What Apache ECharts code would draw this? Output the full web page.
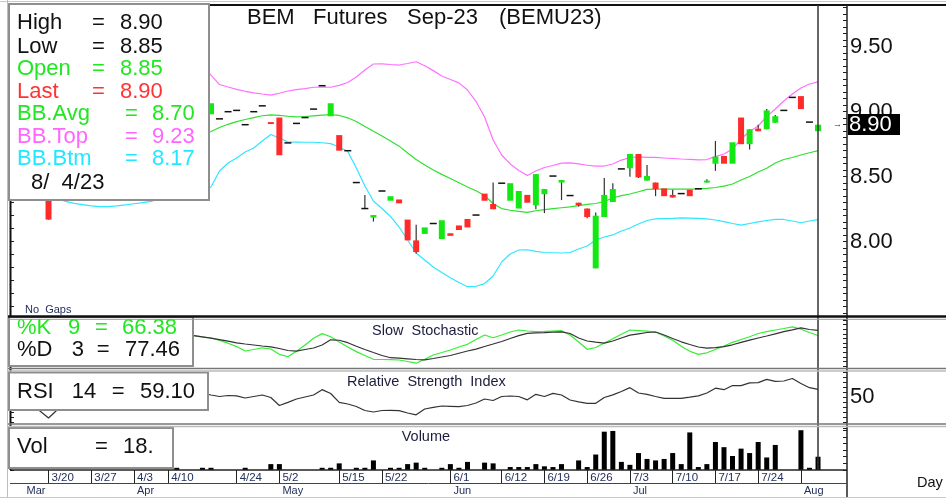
<!DOCTYPE html>
<html>
<head>
<meta charset="utf-8">
<title>BEM Futures Sep-23 (BEMU23)</title>
<script src="https://cdn.jsdelivr.net/npm/echarts@6/dist/echarts.min.js"></script>
<style>
  html, body { margin: 0; padding: 0; background: #fff; }
  #main { width: 946px; height: 498px; }
</style>
</head>
<body>
<div id="main"></div>
<script>
// trading days (bars), oldest first
const dates = ['3/14','3/15','3/16','3/17','3/20','3/21','3/22','3/23','3/24','3/27','3/28','3/29','3/30','3/31',
  '4/3','4/4','4/5','4/6','4/10','4/11','4/12','4/13','4/14','4/17','4/18','4/19','4/24','4/25','4/26','4/27','4/28',
  '5/2','5/3','5/4','5/5','5/8','5/9','5/10','5/15','5/16','5/17','5/18','5/19','5/22','5/23','5/24','5/25','5/26','5/29','5/30','5/31',
  '6/1','6/2','6/5','6/6','6/7','6/8','6/12','6/13','6/14','6/15','6/16','6/19','6/20','6/21','6/22','6/23','6/26','6/27','6/28','6/29','6/30',
  '7/3','7/4','7/5','7/6','7/7','7/10','7/11','7/12','7/13','7/14','7/17','7/18','7/19','7/20','7/21','7/24','7/25','7/26','7/27','7/28',
  '8/1','8/3','8/4'];

const weekLabels = ['3/20','3/27','4/3','4/10','4/24','5/2','5/15','5/22','6/1','6/12','6/19','6/26','7/3','7/10','7/17','7/24'];
const monthStarts = ['3/14','4/3','5/2','6/1','7/3','8/1'];
const monthNames = ['Mar','Apr','May','Jun','Jul','Aug'];

const opens = [8.50,8.52,8.55,8.50,8.38,8.55,8.62,8.70,8.72,8.78,8.80,8.85,8.88,8.92,8.95,8.98,9.00,9.02,9.05,9.08,9.05,9.02,9.00,
  8.98,8.945,9.00,9.01,8.90,9.00,9.045,8.92,8.955,8.76,8.91,8.955,9.02,9.20,8.965,8.82,8.70,8.455,8.255,8.185,8.39,8.315,
  8.325,8.17,8.01,8.06,8.14,8.02,8.065,8.125,8.175,8.205,8.37,8.29,8.45,8.315,8.255,8.36,8.28,8.365,8.505,8.455,8.355,8.30,
  8.255,7.795,8.19,8.305,8.56,8.565,8.675,8.47,8.455,8.41,8.36,8.37,8.40,8.407,8.455,8.60,8.66,8.60,8.955,8.75,8.87,8.865,
  8.915,9.01,9.11,9.12,8.92,8.85];
const closes = [8.50,8.52,8.55,8.50,8.17,8.55,8.62,8.70,8.72,8.78,8.80,8.85,8.88,8.92,8.95,8.98,9.00,9.02,9.05,9.08,9.05,9.02,9.00,
  9.065,8.945,9.00,9.01,8.90,9.00,9.045,8.905,8.665,8.76,8.91,8.955,9.02,9.20,9.065,8.70,8.70,8.455,8.255,8.205,8.39,8.35,
  8.295,8.01,7.92,8.11,8.14,8.165,8.045,8.09,8.11,8.205,8.315,8.25,8.45,8.45,8.39,8.30,8.52,8.405,8.505,8.475,8.355,8.28,
  8.19,8.20,8.36,8.405,8.56,8.675,8.495,8.505,8.405,8.35,8.34,8.37,8.35,8.407,8.47,8.655,8.60,8.765,8.75,8.865,8.85,9.01,
  8.965,9.01,9.11,9.02,8.92,8.90];
const highs = [8.50,8.52,8.55,8.50,8.40,8.55,8.62,8.70,8.72,8.78,8.80,8.85,8.88,8.92,8.95,8.98,9.00,9.02,9.05,9.08,9.05,9.02,9.00,
  9.065,8.945,9.00,9.01,8.90,9.00,9.045,8.92,8.955,8.76,8.91,8.955,9.02,9.20,9.065,8.82,8.70,8.455,8.36,8.205,8.39,8.35,
  8.325,8.17,8.13,8.11,8.14,8.165,8.065,8.125,8.175,8.205,8.37,8.455,8.45,8.45,8.39,8.36,8.52,8.405,8.505,8.475,8.355,8.30,
  8.255,8.225,8.49,8.45,8.56,8.675,8.675,8.59,8.455,8.41,8.40,8.37,8.40,8.407,8.48,8.775,8.66,8.765,8.955,8.865,8.90,9.02,
  8.975,9.01,9.11,9.12,8.92,8.90];
const lows = [8.50,8.52,8.55,8.50,8.17,8.55,8.62,8.70,8.72,8.78,8.80,8.85,8.88,8.92,8.95,8.98,9.00,9.02,9.05,9.08,9.05,9.02,9.00,
  8.98,8.945,9.00,9.01,8.90,9.00,9.045,8.905,8.665,8.76,8.91,8.955,9.02,9.20,8.965,8.70,8.70,8.455,8.255,8.155,8.39,8.315,
  8.295,8.01,7.91,8.06,8.14,8.02,8.045,8.09,8.11,8.205,8.315,8.25,8.45,8.315,8.255,8.30,8.25,8.22,8.505,8.32,8.355,8.27,
  8.18,7.795,8.19,8.305,8.56,8.50,8.49,8.47,8.35,8.35,8.34,8.37,8.35,8.407,8.455,8.545,8.60,8.60,8.75,8.71,8.85,8.865,
  8.915,9.01,9.11,9.02,8.92,8.85];

const volumes = [0,0,0,0,0,0,0,0,0,0,0,0,0,0,0,0,0,0,0,
  3,0,0,3,3,0,0,0,3,0,0,
  8,8,0,0,0,0,3,3,9,0,
  3,3,13,0,3,3,8,10,3,0,
  3,8,3,11,0,10,9,0,4,4,
  4,8,5,4,8,0,13,4,21,52,
  53,11,7,23,15,13,15,23,8,51,
  4,8,38,31,19,29,23,38,17,34,
  0,0,54,3,18];

const bbTop = [9.25,9.27,9.30,9.32,9.34,9.36,9.38,9.40,9.41,9.42,9.43,9.44,9.44,9.45,9.45,9.44,9.43,9.42,9.41,9.40,9.38,9.36,9.352,
  9.282,9.209,9.19,9.172,9.157,9.145,9.136,9.128,9.142,9.159,
  9.17,9.178,9.188,9.19,9.188,9.202,9.225,9.267,9.321,9.367,
  9.368,9.363,9.359,9.371,9.384,9.353,9.316,9.275,9.248,9.222,
  9.167,9.078,8.959,8.782,8.667,8.598,8.548,8.509,8.544,8.571,
  8.586,8.605,8.607,8.599,8.588,8.581,8.582,8.598,8.628,8.648,
  8.652,8.649,8.648,8.644,8.64,8.636,8.634,8.63,8.632,8.654,
  8.675,8.713,8.79,8.848,8.89,8.962,9.021,9.082,9.136,9.182,
  9.213,9.23];
const bbAvg = [8.60,8.62,8.63,8.64,8.65,8.66,8.67,8.68,8.69,8.70,8.71,8.72,8.73,8.74,8.75,8.76,8.77,8.78,8.79,8.80,8.805,8.81,8.821,
  8.848,8.878,8.903,8.924,8.94,8.955,8.969,8.975,8.971,8.965,
  8.96,8.963,8.968,8.973,8.978,8.971,8.953,8.925,8.886,8.849,
  8.813,8.775,8.735,8.682,8.632,8.59,8.552,8.518,8.486,8.453,
  8.421,8.392,8.355,8.292,8.255,8.242,8.233,8.226,8.238,8.247,
  8.254,8.261,8.268,8.278,8.287,8.294,8.309,8.336,8.355,8.367,
  8.384,8.403,8.404,8.404,8.404,8.405,8.405,8.407,8.41,8.417,
  8.428,8.444,8.475,8.502,8.536,8.565,8.605,8.632,8.648,8.667,
  8.684,8.70];
const bbBtm = [8.40,8.38,8.36,8.35,8.34,8.33,8.31,8.295,8.285,8.275,8.27,8.27,8.275,8.283,8.292,8.30,8.31,8.33,8.345,8.36,8.37,8.38,8.39,
  8.421,8.544,8.605,8.644,8.69,8.721,8.775,8.825,8.798,8.767,
  8.766,8.765,8.765,8.761,8.754,8.728,8.694,8.567,8.428,8.313,
  8.255,8.194,8.113,8.013,7.913,7.859,7.805,7.763,7.723,7.686,
  7.654,7.657,7.678,7.736,7.844,7.905,7.936,7.938,7.925,7.917,
  7.915,7.913,7.917,7.944,7.967,8.013,8.036,8.052,8.082,8.105,
  8.136,8.163,8.175,8.178,8.18,8.184,8.182,8.179,8.175,8.167,
  8.155,8.14,8.128,8.14,8.152,8.163,8.171,8.171,8.159,8.146,
  8.159,8.17];

const stochK = [50,45,40,30,20,15,25,35,45,55,60,65,70,72,75,78,80,78,75,70,
  67.4,65.9,63,60.9,55.7,49.6,42.2,32.6,35.9,39.6,37,25.4,20.2,32.2,45.7,60.2,70.4,63.7,52.2,41.3,
  31.3,22.8,14.6,14.1,13.7,13,9.8,6.1,14.6,23.9,29.3,34.8,41.3,47.4,57.6,67.4,61.5,67.4,73.9,78.3,
  76.1,74.8,75.2,76.1,76.7,67.4,52.2,36.3,40.2,50,59.3,69.1,78.3,77,75.7,73.9,65.2,56.1,42.8,32.2,
  25.2,28.7,35.9,43.5,51.5,57.6,63.5,70.7,74.6,78.3,81.5,85,80,72.8,66.38];
const stochD = [55,50,45,38,30,25,25,30,38,45,52,58,63,67,70,73,75,76,74,71,
  67.4,65.9,63.5,60.4,57.4,53.9,50.4,47.8,45.7,43.5,41.7,38,33.7,32.2,35.9,39.1,45.7,57,56,50.7,
  42.8,35.9,29.3,22.8,18,17,15.7,14.1,13.3,16.3,19.6,22.8,27.8,32.6,36.7,42.4,47.8,53.3,59.8,65.9,
  70.9,71.9,72.6,73.5,74.1,70.7,60.9,54.3,51.7,49.6,54.3,60.9,67,70,72.8,73.9,67.4,59.8,52.6,46.7,
  41.3,38.7,40,42.2,46.1,51.3,56.1,60.9,65.2,70,74.8,78.7,82.8,79.3,77.46];

const rsi = [48.8,46.4,38,33.2,24.8,34.4,46.4,50,53,55,57,58,60,61,62,63,62,60,58,57,56,55,54.8,
  52.4,50.6,51.8,51.4,48.8,50.6,52.4,49.4,39.8,43.6,47.6,50,52.4,58.8,54.2,43.6,41.6,38.6,33.8,32,
  33.8,34,33.6,30.8,28.6,35.6,37.5,39.2,38.8,38.4,39.8,42.8,47.6,45.8,50.6,51.2,50.6,46.6,53.2,50.6,
  54.3,52.4,46.4,44.2,42.4,42.4,49.4,52.6,56.6,61.2,54.8,53.2,50.6,48.4,48.4,48.4,49.8,51.4,54.8,60.6,
  58.8,63.8,63.7,67,67.2,71.2,68.8,69.2,72.2,66.2,61.2,59.1];

const N = dates.length;
const candleData = dates.map((d, i) => [i, opens[i], closes[i], lows[i], highs[i]]);

const FONT = "'Liberation Sans', Arial, sans-serif";
const GRID_L = 10.05, GRID_R = 123.7;   // 95 bars of 8.55px, last bar centred at x=818
const AXIS_OFF = 24.7;                  // right axis line at x=847
const UP = '#14e814', DOWN = '#ff2b2b';

function hiddenX(g) {
  return { type: 'category', gridIndex: g, data: dates, boundaryGap: true, show: false };
}
function tickAxis(g, pos, min, max, step, labels) {
  return {
    type: 'value', gridIndex: g, position: pos, offset: pos === 'right' ? AXIS_OFF : 0,
    min: min, max: max, interval: step,
    axisLine: { show: false },
    axisTick: { show: true, inside: true, length: 4, lineStyle: { color: '#222', width: 1 } },
    axisLabel: labels ? { show: true, margin: 3, fontSize: 22, color: '#111', fontFamily: FONT, formatter: labels }
                      : { show: false },
    splitLine: { show: false }
  };
}

function line(x1, y1, x2, y2, color, w, z) {
  return { type: 'line', z: z || 100, shape: { x1: x1, y1: y1, x2: x2, y2: y2 }, style: { stroke: color, lineWidth: w } };
}
function box(x, y, w, h, z) {
  return { type: 'rect', z: z || 101, shape: { x: x, y: y, width: w, height: h },
    style: { fill: '#fff', stroke: '#8e8e8e', lineWidth: 2 } };
}
function txt(x, y, s, color, size, z) {
  return { type: 'text', z: z || 102, x: x, y: y,
    style: { text: s, fill: color, fontSize: size, fontFamily: FONT,
      textAlign: 'left', textVerticalAlign: 'middle', align: 'left', verticalAlign: 'middle' } };
}

const last = N - 1;
const GREEN_T = '#22e622', RED_T = '#ff3333', MAG_T = '#ff66ff', CYAN_T = '#22e8ff';

const graphics = [
  // frame
  line(0, 1.5, 946, 1.5, '#c8c8c8', 1, 99),
  line(8, 5, 946, 5, '#111', 2),
  line(7.5, 0, 7.5, 498, '#bdbdbd', 1),
  line(10.5, 5, 10.5, 470, '#111', 2),
  line(818, 5, 818, 470, '#333', 1.5),
  line(847, 5, 847, 498, '#222', 1.5),
  line(10, 470, 847, 470, '#222', 1.5),
  line(10, 483.5, 847, 483.5, '#444', 1),
  line(0, 497.5, 946, 497.5, '#c8c8c8', 1),

  // main legend
  box(9, 4, 200, 196),
  txt(17, 23, 'High', '#111', 22), txt(92, 23, '=', '#111', 22), txt(120, 23, highs[last].toFixed(2), '#111', 22),
  txt(17, 46.7, 'Low', '#111', 22), txt(92, 46.7, '=', '#111', 22), txt(120, 46.7, lows[last].toFixed(2), '#111', 22),
  txt(17, 69, 'Open', GREEN_T, 22), txt(92, 69, '=', GREEN_T, 22), txt(120, 69, opens[last].toFixed(2), GREEN_T, 22),
  txt(17, 91.7, 'Last', RED_T, 22), txt(92, 91.7, '=', RED_T, 22), txt(120, 91.7, closes[last].toFixed(2), RED_T, 22),
  txt(17, 114.3, 'BB.Avg', GREEN_T, 22), txt(125, 114.3, '=', GREEN_T, 22), txt(152, 114.3, bbAvg[last].toFixed(2), GREEN_T, 22),
  txt(17, 136.7, 'BB.Top', MAG_T, 22), txt(125, 136.7, '=', MAG_T, 22), txt(152, 136.7, bbTop[last].toFixed(2), MAG_T, 22),
  txt(17, 159.3, 'BB.Btm', CYAN_T, 22), txt(125, 159.3, '=', CYAN_T, 22), txt(152, 159.3, bbBtm[last].toFixed(2), CYAN_T, 22),
  txt(31, 182.7, '8/  4/23', '#111', 22),

  // title
  txt(247, 18, 'BEM', '#111', 22, 99), txt(313, 18, 'Futures', '#111', 22, 99),
  txt(407, 18, 'Sep-23', '#111', 22, 99), txt(499, 18, '(BEMU23)', '#111', 22, 99),
  txt(25, 310, 'No  Gaps', '#22305a', 11, 99),

  // last price marker
  { type: 'rect', z: 103, shape: { x: 848, y: 114, width: 52, height: 21 }, style: { fill: '#000' } },
  txt(849, 124.5, closes[last].toFixed(2), '#fff', 22, 104),
  txt(833, 124.5, '\u2192', '#333', 9, 104),

  // stochastic legend
  box(9, 317, 184, 49),
  txt(17, 328, '%K', GREEN_T, 22), txt(68, 328, '9', GREEN_T, 22), txt(95, 328, '=', GREEN_T, 22),
  txt(122, 328, stochK[last].toFixed(2), GREEN_T, 22),
  txt(17, 350, '%D', '#111', 22), txt(71.7, 350, '3', '#111', 22), txt(96.7, 350, '=', '#111', 22),
  txt(125, 350, stochD[last].toFixed(2), '#111', 22),
  txt(372, 331, 'Slow  Stochastic', '#1c1c3c', 14.5, 99),

  // RSI legend
  box(9, 372.5, 199, 37.5),
  txt(17, 391.7, 'RSI', '#111', 22), txt(71.7, 391.7, '14', '#111', 22), txt(111.7, 391.7, '=', '#111', 22),
  txt(140, 391.7, rsi[last].toFixed(2), '#111', 22),
  txt(347, 381.7, 'Relative  Strength  Index', '#1c1c3c', 14.5, 99),

  // volume legend
  box(9, 428, 164, 40),
  txt(17, 446.7, 'Vol', '#111', 22), txt(95, 446.7, '=', '#111', 22), txt(123, 446.7, volumes[last] + '.', '#111', 22),
  txt(401.7, 437.3, 'Volume', '#1c1c3c', 14.5, 99),

  txt(917, 483, 'Day', '#111', 14.5, 99),

  // panel separators (drawn last so they clip the %K row like the original)
  line(8, 316.5, 946, 316.5, '#111', 2.5, 110),
  line(8, 319.3, 946, 319.3, '#9a9a9a', 1, 110),
  line(8, 368.5, 946, 368.5, '#777', 1.5, 110),
  line(8, 371, 946, 371, '#bbb', 1.5, 110),
  line(8, 424, 946, 424, '#777', 1.5, 110),
  line(8, 426.5, 946, 426.5, '#bbb', 1.5, 110)
];

const chart = echarts.init(document.getElementById('main'), null, { renderer: 'canvas' });

chart.setOption({
  animation: false,
  backgroundColor: '#fff',
  grid: [
    { left: GRID_L, right: GRID_R, top: 7.7, height: 312 },
    { left: GRID_L, right: GRID_R, top: 320, height: 46 },
    { left: GRID_L, right: GRID_R, top: 372, height: 50 },
    { left: GRID_L, right: GRID_R, top: 428, height: 42 }
  ],
  xAxis: [
    hiddenX(0), hiddenX(1), hiddenX(2),
    {
      type: 'category', gridIndex: 3, data: dates, boundaryGap: true, position: 'bottom',
      axisLine: { show: false },
      axisTick: { show: true, alignWithLabel: true, length: 13,
        interval: (i, v) => weekLabels.indexOf(v) >= 0, lineStyle: { color: '#222', width: 1 } },
      axisLabel: { show: true, interval: (i, v) => weekLabels.indexOf(v) >= 0,
        formatter: v => (weekLabels.indexOf(v) >= 0 ? v : ''),
        align: 'left', margin: 2, padding: [0, 0, 0, 3], fontSize: 11.5, color: '#22305a', fontFamily: FONT },
      splitLine: { show: false }
    },
    {
      type: 'category', gridIndex: 3, data: dates, boundaryGap: true, position: 'bottom', offset: 13.5,
      axisLine: { show: false },
      axisTick: { show: true, alignWithLabel: true, length: 14,
        interval: (i, v) => monthStarts.indexOf(v) > 0, lineStyle: { color: '#222', width: 1 } },
      axisLabel: { show: true, interval: (i, v) => monthStarts.indexOf(v) >= 0,
        formatter: v => { const m = monthStarts.indexOf(v); return m > 0 ? monthNames[m] : (m === 0 ? '   ' + monthNames[0] : ''); },
        align: 'left', margin: 2, padding: [0, 0, 0, 3], fontSize: 11, color: '#22305a', fontFamily: FONT },
      splitLine: { show: false }
    }
  ],
  yAxis: [
    tickAxis(0, 'right', 7.4, 9.8, 0.05,
      v => (Math.abs(v * 2 - Math.round(v * 2)) < 1e-6 && v > 7.9) ? v.toFixed(2) : ''),
    tickAxis(0, 'left', 7.4, 9.8, 0.1, null),
    tickAxis(1, 'right', 0, 100, 10, null),
    tickAxis(1, 'left', 0, 100, 10, null),
    tickAxis(2, 'right', 20, 80, 6, v => (Math.abs(v - 50) < 1e-6 ? '50' : '')),
    tickAxis(2, 'left', 20, 80, 6, null),
    tickAxis(3, 'right', 0, 57, 9, null),
    tickAxis(3, 'left', 0, 57, 9, null)
  ],
  series: [
    { name: 'BB.Top', type: 'line', xAxisIndex: 0, yAxisIndex: 0, data: bbTop, symbol: 'none', z: 2,
      lineStyle: { color: '#ff70ff', width: 1.2 } },
    { name: 'BB.Avg', type: 'line', xAxisIndex: 0, yAxisIndex: 0, data: bbAvg, symbol: 'none', z: 2,
      lineStyle: { color: '#2ee02e', width: 1.2 } },
    { name: 'BB.Btm', type: 'line', xAxisIndex: 0, yAxisIndex: 0, data: bbBtm, symbol: 'none', z: 2,
      lineStyle: { color: '#2ee6ff', width: 1.2 } },
    {
      name: 'Price', type: 'custom', xAxisIndex: 0, yAxisIndex: 0, z: 3,
      data: candleData,
      encode: { x: 0, y: [1, 2, 3, 4] },
      renderItem: function (params, api) {
        const i = api.value(0), o = api.value(1), c = api.value(2), l = api.value(3), h = api.value(4);
        const x = api.coord([i, o])[0];
        const yo = api.coord([i, o])[1], yc = api.coord([i, c])[1];
        const yl = api.coord([i, l])[1], yh = api.coord([i, h])[1];
        const kids = [];
        if (h > Math.max(o, c) + 1e-9 || l < Math.min(o, c) - 1e-9) {
          kids.push({ type: 'line', shape: { x1: x, y1: yh, x2: x, y2: yl }, style: { stroke: '#333', lineWidth: 1.2 } });
        }
        if (Math.abs(o - c) < 1e-9) {
          kids.push({ type: 'line', shape: { x1: x - 3.5, y1: yo, x2: x + 3.5, y2: yo }, style: { stroke: '#111', lineWidth: 1.5 } });
        } else {
          kids.push({ type: 'rect', shape: { x: x - 3, y: Math.min(yo, yc), width: 6, height: Math.max(1.5, Math.abs(yo - yc)) },
            style: { fill: c > o ? UP : DOWN } });
        }
        return { type: 'group', children: kids };
      }
    },
    { name: '%K', type: 'line', xAxisIndex: 1, yAxisIndex: 2, data: stochK, symbol: 'none',
      lineStyle: { color: '#33ee33', width: 1.2 } },
    { name: '%D', type: 'line', xAxisIndex: 1, yAxisIndex: 2, data: stochD, symbol: 'none',
      lineStyle: { color: '#333', width: 1.2 } },
    { name: 'RSI', type: 'line', xAxisIndex: 2, yAxisIndex: 4, data: rsi, symbol: 'none',
      lineStyle: { color: '#333', width: 1.2 } },
    { name: 'Volume', type: 'bar', xAxisIndex: 3, yAxisIndex: 6, data: volumes, barWidth: 5,
      itemStyle: { color: '#000' } }
  ],
  graphic: graphics
});
</script>
</body>
</html>
